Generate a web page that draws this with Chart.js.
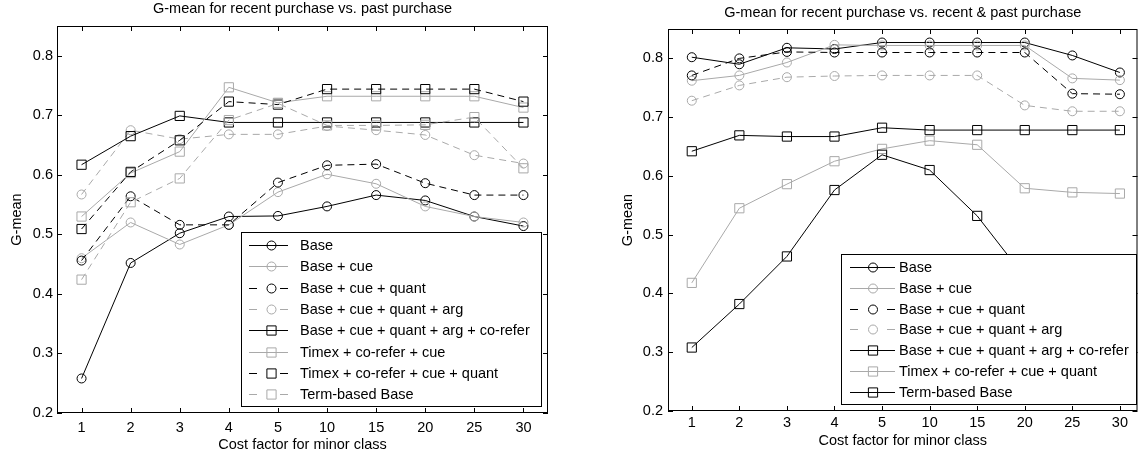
<!DOCTYPE html>
<html>
<head>
<meta charset="utf-8">
<script src="https://cdn.jsdelivr.net/npm/chart.js@4.4.1/dist/chart.umd.min.js"></script>
<style>
  html, body { margin: 0; padding: 0; background: #fff; width: 1145px; height: 455px; overflow: hidden; }
  .panel { position: absolute; top: 0; }
  #pastPanel { left: 0; }
  #bothPanel { left: 600px; }
</style>
</head>
<body>
<div class="panel" id="pastPanel"><canvas id="pastChart" width="560" height="455"></canvas></div>
<div class="panel" id="bothPanel"><canvas id="bothChart" width="545" height="455"></canvas></div>
<script>
const COST_FACTORS = ["1", "2", "3", "4", "5", "10", "15", "20", "25", "30"];
const Y_TICKS = [0.2, 0.3, 0.4, 0.5, 0.6, 0.7, 0.8];

// recent purchase vs. past purchase
const PAST_BASE = [0.258, 0.452, 0.502, 0.530, 0.531, 0.547, 0.566, 0.557, 0.530, 0.514];
const PAST_CUE = [0.460, 0.520, 0.483, 0.516, 0.571, 0.601, 0.585, 0.547, 0.530, 0.520];
const PAST_QUANT = [0.456, 0.564, 0.516, 0.516, 0.587, 0.616, 0.618, 0.586, 0.566, 0.566];
const PAST_ARG = [0.567, 0.675, 0.660, 0.668, 0.668, 0.682, 0.675, 0.667, 0.633, 0.619];
const PAST_COREFER = [0.617, 0.665, 0.699, 0.688, 0.688, 0.688, 0.688, 0.688, 0.688, 0.688];
const PAST_TIMEX_CUE = [0.530, 0.603, 0.639, 0.747, 0.721, 0.732, 0.732, 0.732, 0.732, 0.713];
const PAST_TIMEX_QUANT = [0.509, 0.605, 0.658, 0.723, 0.718, 0.744, 0.744, 0.744, 0.744, 0.723];
const PAST_TERM = [0.424, 0.554, 0.594, 0.692, 0.720, 0.683, 0.683, 0.684, 0.697, 0.611];

// recent purchase vs. recent & past purchase
const BOTH_BASE = [0.802, 0.790, 0.818, 0.816, 0.827, 0.827, 0.827, 0.827, 0.805, 0.776];
const BOTH_CUE = [0.762, 0.771, 0.793, 0.823, 0.822, 0.822, 0.822, 0.822, 0.766, 0.763];
const BOTH_QUANT = [0.771, 0.800, 0.811, 0.810, 0.810, 0.810, 0.810, 0.810, 0.740, 0.739];
const BOTH_ARG = [0.728, 0.754, 0.768, 0.770, 0.771, 0.771, 0.771, 0.720, 0.710, 0.710];
const BOTH_COREFER = [0.642, 0.669, 0.667, 0.667, 0.682, 0.678, 0.678, 0.678, 0.678, 0.678];
const BOTH_TIMEX_QUANT = [0.418, 0.545, 0.586, 0.625, 0.646, 0.660, 0.653, 0.579, 0.572, 0.570];
const BOTH_TERM = [0.308, 0.382, 0.463, 0.576, 0.636, 0.610, 0.532, 0.428, 0.380, 0.350];

const FONT = "'Liberation Sans', Arial, Helvetica, sans-serif";
const FONT_SIZE = 14.5;
const BLACK = "#000000";
const GRAY = "#a9a9a9";
const LINE_DASH = [7, 5];
const LEGEND_DASH = 8;
const CIRCLE_R = 4.5;
const SQUARE_R = 6.5;
const TICK_LEN = 5;

function series(label, values, color, dashed, marker) {
    return {
        label: label,
        data: values.map((v, i) => ({ x: i, y: v })),
        borderColor: color,
        borderWidth: 1,
        borderDash: dashed ? LINE_DASH : [],
        pointStyle: marker,
        pointRadius: marker === "rect" ? SQUARE_R : CIRCLE_R,
        pointBorderColor: color,
        pointBackgroundColor: "rgba(0,0,0,0)",
        pointBorderWidth: 1,
        tension: 0,
        fill: false,
    };
}

function drawMarker(ctx, style, r, x, y) {
    ctx.beginPath();
    if (style === "rect") {
        const h = r * Math.SQRT1_2;
        ctx.rect(x - h, y - h, 2 * h, 2 * h);
    } else {
        ctx.arc(x, y, r, 0, Math.PI * 2);
    }
    ctx.stroke();
}

// box with inward tick marks on all four sides, like the original plots
const matlabFrame = {
    id: "matlabFrame",
    afterDatasetsDraw(chart) {
        const { ctx, chartArea: a, scales: { x, y } } = chart;
        ctx.save();
        ctx.strokeStyle = BLACK;
        ctx.lineWidth = 1;
        ctx.setLineDash([]);
        ctx.beginPath();
        x.ticks.forEach((t) => {
            const px = Math.round(x.getPixelForValue(t.value)) + 0.5;
            ctx.moveTo(px, a.bottom);
            ctx.lineTo(px, a.bottom - TICK_LEN);
            ctx.moveTo(px, a.top);
            ctx.lineTo(px, a.top + TICK_LEN);
        });
        y.ticks.forEach((t) => {
            const py = Math.round(y.getPixelForValue(t.value)) + 0.5;
            ctx.moveTo(a.left, py);
            ctx.lineTo(a.left + TICK_LEN, py);
            ctx.moveTo(a.right, py);
            ctx.lineTo(a.right - TICK_LEN, py);
        });
        ctx.stroke();
        ctx.strokeRect(a.left + 0.5, a.top + 0.5, a.right - a.left - 1, a.bottom - a.top - 1);
        ctx.restore();
    },
};

// legend drawn inside the plot box, bottom right, with white background
const boxLegend = {
    id: "boxLegend",
    afterDraw(chart, args, opts) {
        const { ctx, chartArea: a } = chart;
        const sets = chart.data.datasets;
        const h = opts.padTop + (sets.length - 1) * opts.rowHeight + opts.padBottom;
        const left = Math.round(a.right - opts.right - opts.width);
        const top = Math.round(a.bottom - opts.bottom - h);
        ctx.save();
        ctx.fillStyle = "#ffffff";
        ctx.fillRect(left, top, opts.width, h);
        ctx.strokeStyle = BLACK;
        ctx.lineWidth = 1;
        ctx.setLineDash([]);
        ctx.strokeRect(left + 0.5, top + 0.5, opts.width, Math.round(h));
        ctx.font = `${FONT_SIZE}px ${FONT}`;
        ctx.textBaseline = "middle";
        ctx.textAlign = "left";
        sets.forEach((ds, i) => {
            const y = Math.round(top + opts.padTop + i * opts.rowHeight) + 0.5;
            const x0 = left + opts.lineStart;
            const x1 = left + opts.lineEnd;
            ctx.strokeStyle = ds.borderColor;
            ctx.beginPath();
            if (ds.borderDash.length) {
                ctx.moveTo(x0, y);
                ctx.lineTo(x0 + LEGEND_DASH, y);
                ctx.moveTo(x1 - LEGEND_DASH, y);
                ctx.lineTo(x1, y);
            } else {
                ctx.moveTo(x0, y);
                ctx.lineTo(x1, y);
            }
            ctx.stroke();
            drawMarker(ctx, ds.pointStyle, ds.pointRadius, left + opts.markerX, y);
            ctx.fillStyle = BLACK;
            ctx.fillText(ds.label, left + opts.textX, y);
        });
        ctx.restore();
    },
};

function makeChart(canvasId, title, datasets, cfg) {
    datasets.forEach((ds, i) => { ds.order = datasets.length - i; });
    const font = { family: FONT, size: FONT_SIZE, weight: "normal" };
    return new Chart(document.getElementById(canvasId), {
        type: "line",
        data: { datasets: datasets },
        plugins: [matlabFrame, boxLegend],
        options: {
            responsive: false,
            animation: false,
            events: [],
            layout: { padding: { left: 0, right: cfg.padRight, top: 0, bottom: 0 } },
            plugins: {
                legend: { display: false },
                tooltip: { enabled: false },
                title: {
                    display: true,
                    fullSize: false, // centre over the plot box, not the canvas
                    text: title,
                    color: BLACK,
                    font: font,
                    padding: { top: cfg.titleTop, bottom: cfg.titleBottom },
                },
                boxLegend: cfg.legend,
            },
            scales: {
                x: {
                    type: "linear",
                    min: -0.5,
                    max: cfg.xMax,
                    grid: { display: false, drawTicks: false },
                    border: { display: false },
                    afterBuildTicks: (s) => { s.ticks = COST_FACTORS.map((_, i) => ({ value: i })); },
                    afterFit: (s) => { s.height = cfg.xHeight; },
                    ticks: {
                        color: BLACK,
                        font: font,
                        padding: cfg.xTickPad,
                        maxRotation: 0,
                        autoSkip: false,
                        callback: (v) => COST_FACTORS[v],
                    },
                    title: {
                        display: true,
                        text: "Cost factor for minor class",
                        color: BLACK,
                        font: font,
                        padding: { top: 0, bottom: cfg.xTitlePad },
                    },
                },
                y: {
                    type: "linear",
                    min: 0.2,
                    max: 0.85,
                    grid: { display: false, drawTicks: false },
                    border: { display: false },
                    afterBuildTicks: (s) => { s.ticks = Y_TICKS.map((v) => ({ value: v })); },
                    afterFit: (s) => { s.width = cfg.yWidth; },
                    ticks: {
                        color: BLACK,
                        font: font,
                        padding: cfg.yTickPad,
                        callback: (v) => v.toFixed(1),
                    },
                    title: {
                        display: true,
                        text: "G-mean",
                        color: BLACK,
                        font: font,
                        padding: { top: cfg.yTitlePad, bottom: 0 },
                    },
                },
            },
        },
    });
}

makeChart("pastChart", "G-mean for recent purchase vs. past purchase", [
    series("Base", PAST_BASE, BLACK, false, "circle"),
    series("Base + cue", PAST_CUE, GRAY, false, "circle"),
    series("Base + cue + quant", PAST_QUANT, BLACK, true, "circle"),
    series("Base + cue + quant + arg", PAST_ARG, GRAY, true, "circle"),
    series("Base + cue + quant + arg + co-refer", PAST_COREFER, BLACK, false, "rect"),
    series("Timex + co-refer + cue", PAST_TIMEX_CUE, GRAY, false, "rect"),
    series("Timex + co-refer + cue + quant", PAST_TIMEX_QUANT, BLACK, true, "rect"),
    series("Term-based Base", PAST_TERM, GRAY, true, "rect"),
], {
    padRight: 12, xMax: 9.5, yWidth: 57, xHeight: 42,
    titleTop: 0.6, titleBottom: 8.0,
    xTickPad: 5.8, xTitlePad: 1.8, yTickPad: 4, yTitlePad: 7.8,
    legend: { right: 7, bottom: 7, width: 300, padTop: 13, rowHeight: 21.3, padBottom: 12,
              lineStart: 8, lineEnd: 47, markerX: 30.5, textX: 59 },
});

makeChart("bothChart", "G-mean for recent purchase vs. recent & past purchase", [
    series("Base", BOTH_BASE, BLACK, false, "circle"),
    series("Base + cue", BOTH_CUE, GRAY, false, "circle"),
    series("Base + cue + quant", BOTH_QUANT, BLACK, true, "circle"),
    series("Base + cue + quant + arg", BOTH_ARG, GRAY, true, "circle"),
    series("Base + cue + quant + arg + co-refer", BOTH_COREFER, BLACK, false, "rect"),
    series("Timex + co-refer + cue + quant", BOTH_TIMEX_QUANT, GRAY, false, "rect"),
    series("Term-based Base", BOTH_TERM, BLACK, false, "rect"),
], {
    padRight: 0, xMax: 9.37, yWidth: 68, xHeight: 44,
    titleTop: 4.6, titleBottom: 7.0,
    xTickPad: 2.8, xTitlePad: 5.6, yTickPad: 5, yTitlePad: 19.3,
    legend: { right: 2, bottom: 7, width: 295, padTop: 13, rowHeight: 20.8, padBottom: 12,
              lineStart: 9, lineEnd: 54, markerX: 32, textX: 58 },
});
</script>
</body>
</html>
